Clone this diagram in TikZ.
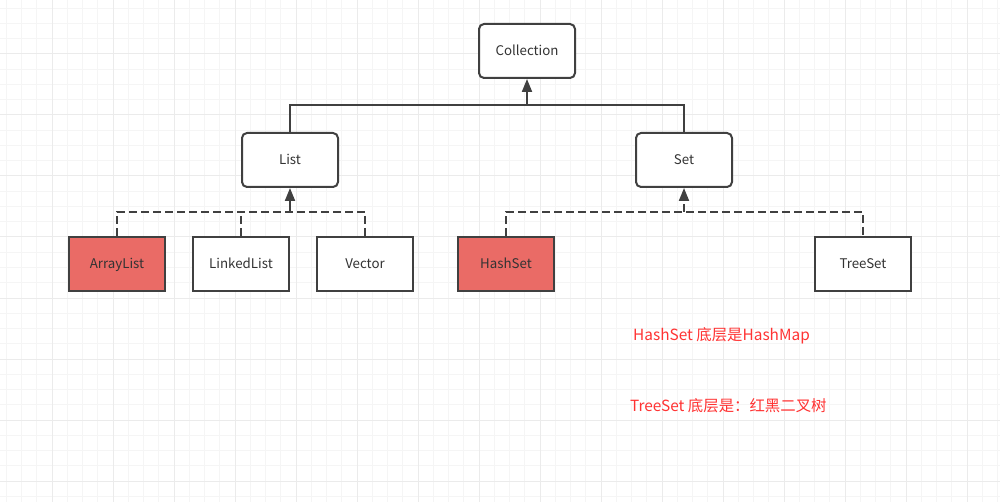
\documentclass[tikz,border=0pt]{standalone}
\usepackage{fontspec}
\setmainfont{Noto Sans CJK SC}
\newfontfamily\cjk{Noto Sans CJK SC}
\usetikzlibrary{arrows.meta}
\definecolor{minorgrid}{HTML}{F5F5F5}
\definecolor{majorgrid}{HTML}{EBEBEB}
\definecolor{stroke}{HTML}{404040}
\definecolor{redfill}{HTML}{EA6B66}
\definecolor{redtext}{HTML}{FF3333}
\definecolor{labeltext}{HTML}{333333}
\tikzset{
  box/.style={draw=stroke, line width=2pt, minimum width=96pt, minimum height=54pt, inner sep=0pt,
    text height=12.5pt, text depth=3pt,
    font=\fontsize{13.3pt}{15pt}\selectfont, text=labeltext, fill=white},
  rbox/.style={box, rounded corners=5pt},
  redbox/.style={box, fill=redfill},
  edge/.style={draw=stroke, line width=2pt},
  dedge/.style={edge, dash pattern=on 8pt off 4pt},
  arr/.style={-{Triangle[length=13pt,width=10pt]}},
  note/.style={text=redtext, font=\cjk\fontsize{15.4pt}{18pt}\selectfont, anchor=west, inner sep=0pt}
}
\begin{document}
\begin{tikzpicture}[x=1pt,y=-1pt]
\useasboundingbox (0,0) rectangle (1000,502);
\fill[white] (0,0) rectangle (1000,502);
% grid
\foreach \k in {0,...,65} {\draw[minorgrid, line width=1pt] ({6.25+15.25*\k},0) -- ({6.25+15.25*\k},502);}
\foreach \k in {0,...,32} {\draw[minorgrid, line width=1pt] (0,{8.25+15.25*\k}) -- (1000,{8.25+15.25*\k});}
\foreach \k in {0,...,15} {\draw[majorgrid, line width=1pt] ({52+61*\k},0) -- ({52+61*\k},502);}
\foreach \k in {0,...,7} {\draw[majorgrid, line width=1pt] (0,{54+61*\k}) -- (1000,{54+61*\k});}

% nodes
\node[rbox] (coll) at (527,51) {Collection};
\node[rbox] (list) at (290,160) {List};
\node[rbox] (set) at (684,160) {Set};
\node[redbox] (al) at (117,264) {ArrayList};
\node[box] (ll) at (241,264) {LinkedList};
\node[box] (vec) at (365,264) {Vector};
\node[redbox] (hs) at (506,264) {HashSet};
\node[box] (ts) at (863,264) {TreeSet};

% solid edges
\coordinate (j1) at (527,105);
\draw[edge] (list.north) |- (j1) -| (set.north);
\draw[edge,arr] (j1) -- (coll.south);

% dashed edges to List
\coordinate (j2) at (290,212);
\draw[dedge] (al.north) |- (j2) -| (vec.north);
\draw[dedge] (ll.north) -- (ll.north |- j2);
\draw[edge,arr] (j2) -- (list.south);

% dashed edges to Set
\coordinate (j3) at (684,212);
\draw[dedge] (hs.north) |- (j3) -| (ts.north);
\draw[dedge,arr] (j3) -- (set.south);

% notes
\node[note] (n1) at (633,336) {HashSet 底层是HashMap};
\node[note] (n2) at (630,406) {TreeSet 底层是：红黑二叉树};
\end{tikzpicture}
\end{document}
